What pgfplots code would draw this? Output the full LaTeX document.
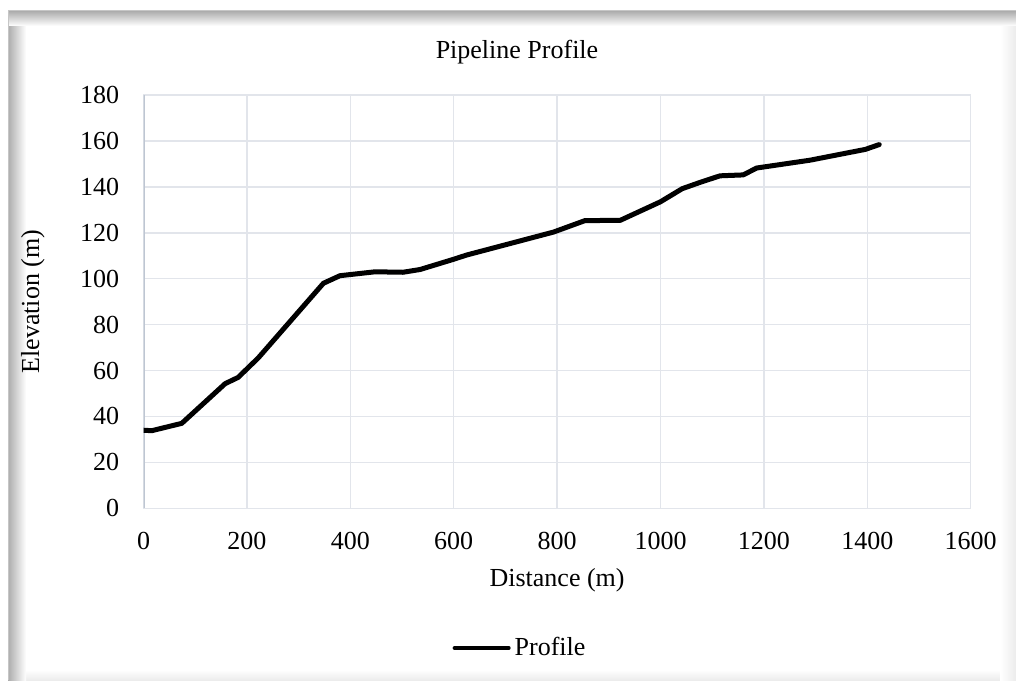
\documentclass[border=0pt]{standalone}
\usepackage{fontspec}
\setmainfont{Liberation Serif}
\usepackage{pgfplots}
\pgfplotsset{compat=1.18}

\definecolor{gridc}{RGB}{226,229,235}
\definecolor{axisc}{RGB}{190,198,210}
\newcommand{\chartfont}{\fontsize{13}{15}\selectfont}

\begin{document}
\begin{tikzpicture}
	% page = 1016x680 px at 0.5pt per px
	\path[use as bounding box, fill=white] (0,0) rectangle (508pt,340pt);
	% frame with soft inner shadow
	\shade[top color=white, bottom color=gray!15] (4pt,0pt) rectangle (508pt,5pt);
	\shade[left color=white, right color=gray!15] (500pt,0pt) rectangle (508pt,327pt);
	\shade[left color=gray!65, right color=white] (4pt,0pt) rectangle (13pt,334.5pt);
	\shade[top color=gray!65, bottom color=white] (4pt,327pt) rectangle (508pt,334.5pt);
	\draw[gray!45, line width=0.5pt] (4pt,0pt) -- (4pt,334.5pt) -- (508pt,334.5pt);

	\begin{axis}[
	at={(71.75pt,85.85pt)}, anchor=south west,
	scale only axis,
	width=413.6pt, height=206.65pt,
	xmin=0, xmax=1600,
	ymin=0, ymax=180,
	xtick={0,200,...,1600},
	ytick={0,20,...,180},
	/pgf/number format/1000 sep={},
	/pgf/number format/assume math mode=true,
	tick style={draw=none},
	grid=major,
	major grid style={draw=gridc, line width=0.75pt},
	axis line style={draw=gridc, line width=0.75pt},
	tick label style={font=\chartfont},
	yticklabel style={inner sep=0pt, xshift=-12pt},
	xticklabel style={inner sep=0pt, yshift=-12pt},
	every axis title shift=0pt,
	title={Pipeline Profile},
	title style={font=\chartfont, at={(0.4515,1.104)}, anchor=center},
	xlabel={Distance (m)},
	xlabel style={font=\chartfont, at={(0.5,-0.1735)}, anchor=center},
	ylabel={Elevation (m)},
	ylabel style={font=\chartfont, at={(-0.1336,0.5)}, anchor=center},
	legend style={
		draw=none,
		fill=none,
		font=\chartfont,
		at={(0.4564,-0.338)}, anchor=center,
		cells={anchor=west},
		inner sep=0pt},
	legend image code/.code={\draw[#1, line width=2pt, line cap=round] (0cm,0cm) -- (0.95cm,0cm);},
	]
	\draw[axisc, line width=1pt] (rel axis cs:0,0) -- (rel axis cs:0,1);
	\addplot[
		color=black,
		line width=2.5pt,
		line join=round,
		line cap=round]
		coordinates {(0,34)(16,33.8)(74,37)(158,54.3)(183,57)(222,65.5)(348,98)(380,101.3)(448,103)(502,102.8)(535,104)(599,108.4)(625,110.3)(793,120.3)(854,125.3)(922,125.4)(1000,133.5)(1042,139.2)(1076,141.9)(1115,144.8)(1160,145.2)(1186,148.2)(1289,151.6)(1396,156.3)(1423,158.4)};
	\addlegendentry{Profile}
	\end{axis}
\end{tikzpicture}
\end{document}
